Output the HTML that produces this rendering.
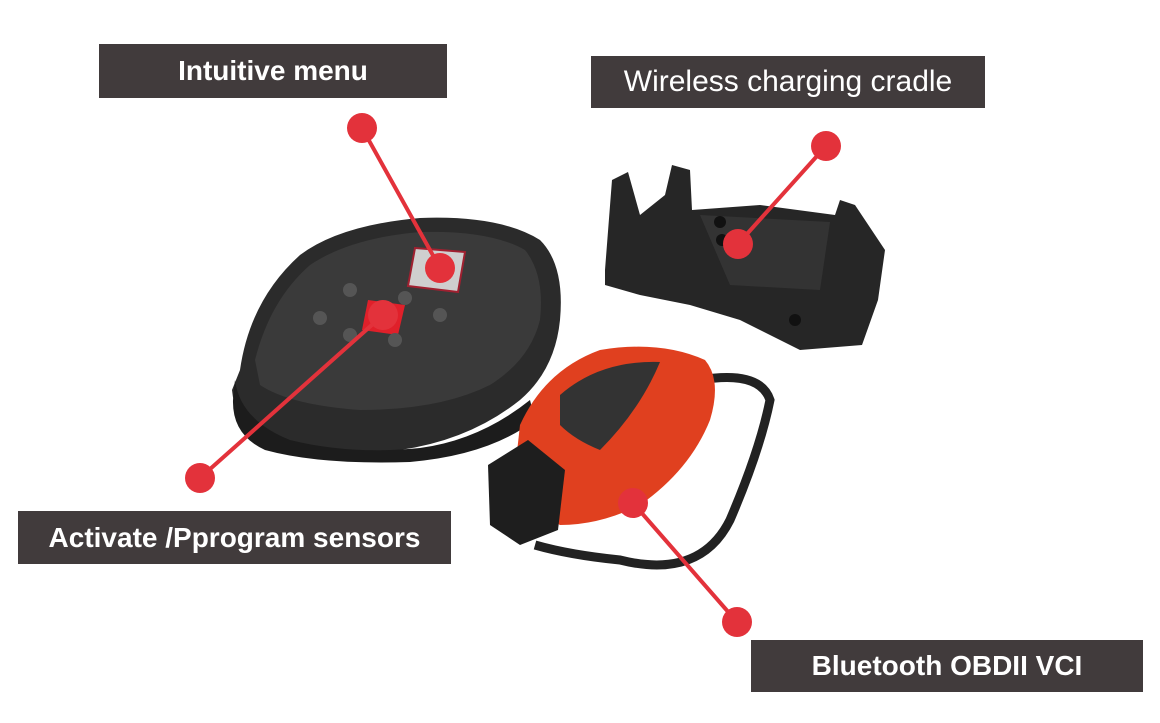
<!DOCTYPE html>
<html><head><meta charset="utf-8"><style>
html,body{margin:0;padding:0;background:#fff;}
#c{position:relative;width:1160px;height:723px;overflow:hidden;background:#fff;}
.lbl{position:absolute;background:#413b3c;color:#fff;font-family:"Liberation Sans",sans-serif;display:flex;align-items:center;justify-content:center;white-space:nowrap;}
svg{position:absolute;left:0;top:0;}
</style></head><body><div id="c">
<svg width="1160" height="723" viewBox="0 0 1160 723">
<!-- handheld -->
<path d="M240,370 Q250,300 300,255 Q340,225 420,218 Q500,215 540,240 Q565,265 560,320 Q555,370 520,400 Q470,440 400,450 Q320,455 270,440 Q235,425 232,390 Z" fill="#2b2b2b"/>
<path d="M255,360 Q270,300 310,265 Q350,238 420,232 Q490,230 525,250 Q545,275 540,320 Q530,360 490,385 Q440,410 360,410 Q290,405 260,385 Z" fill="#3a3a3a"/>
<path d="M415,248 L465,252 L458,292 L408,286 Z" fill="#cfcfcf" stroke="#a02030" stroke-width="2"/>
<path d="M368,300 L405,305 L398,335 L362,330 Z" fill="#e0202a"/>
<circle cx="350" cy="290" r="7" fill="#555"/><circle cx="405" cy="298" r="7" fill="#555"/>
<circle cx="440" cy="315" r="7" fill="#555"/><circle cx="320" cy="318" r="7" fill="#555"/>
<circle cx="350" cy="335" r="7" fill="#555"/><circle cx="395" cy="340" r="7" fill="#555"/>
<path d="M235,380 Q240,420 290,440 Q350,455 420,448 Q480,440 530,400 L535,420 Q490,455 410,462 Q320,465 265,450 Q232,435 233,400 Z" fill="#1c1c1c"/>
<!-- cradle -->
<path d="M605,270 L612,180 L628,172 L640,215 L665,195 L672,165 L690,170 L692,210 L760,205 L835,215 L840,200 L855,205 L875,235 L885,250 L878,300 L862,345 L800,350 L740,320 L690,305 L640,295 L605,285 Z" fill="#262626"/>
<path d="M700,215 L830,222 L820,290 L730,285 Z" fill="#333"/>
<circle cx="720" cy="222" r="6" fill="#111"/><circle cx="722" cy="240" r="6" fill="#111"/><circle cx="795" cy="320" r="6" fill="#111"/>
<!-- strap -->
<path d="M700,380 Q760,370 770,400 Q760,450 730,520 Q700,580 620,560 Q570,555 535,545" fill="none" stroke="#222" stroke-width="9"/>
<!-- dongle -->
<path d="M520,425 Q545,370 600,350 Q660,340 705,360 Q722,380 710,420 Q690,470 640,505 Q600,525 560,525 Q520,505 515,470 Z" fill="#e0401f"/>
<path d="M560,395 Q600,360 660,362 Q640,410 600,450 Q575,440 560,425 Z" fill="#333"/>
<path d="M488,465 L528,440 L565,470 L558,530 L520,545 L490,525 Z" fill="#1e1e1e"/>
<!-- connectors -->
<g stroke="#e3323b" stroke-width="4" stroke-linecap="round">
<line x1="362" y1="128" x2="440" y2="268"/>
<line x1="826" y1="146" x2="738" y2="244"/>
<line x1="200" y1="478" x2="383" y2="315"/>
<line x1="737" y1="622" x2="633" y2="503"/>
</g>
<g fill="#e3323b">
<circle cx="362" cy="128" r="15"/><circle cx="440" cy="268" r="15"/>
<circle cx="826" cy="146" r="15"/><circle cx="738" cy="244" r="15"/>
<circle cx="200" cy="478" r="15"/><circle cx="383" cy="315" r="15"/>
<circle cx="737" cy="622" r="15"/><circle cx="633" cy="503" r="15"/>
</g>
</svg>
<div class="lbl" style="left:99px;top:44px;width:348px;height:54px;font-size:28px;font-weight:bold;">Intuitive menu</div>
<div class="lbl" style="left:591px;top:56px;width:394px;height:52px;font-size:30px;">Wireless charging cradle</div>
<div class="lbl" style="left:18px;top:511px;width:433px;height:53px;font-size:28px;font-weight:bold;">Activate /Pprogram sensors</div>
<div class="lbl" style="left:751px;top:640px;width:392px;height:52px;font-size:28px;font-weight:bold;">Bluetooth OBDII VCI</div>
</div></body></html>
